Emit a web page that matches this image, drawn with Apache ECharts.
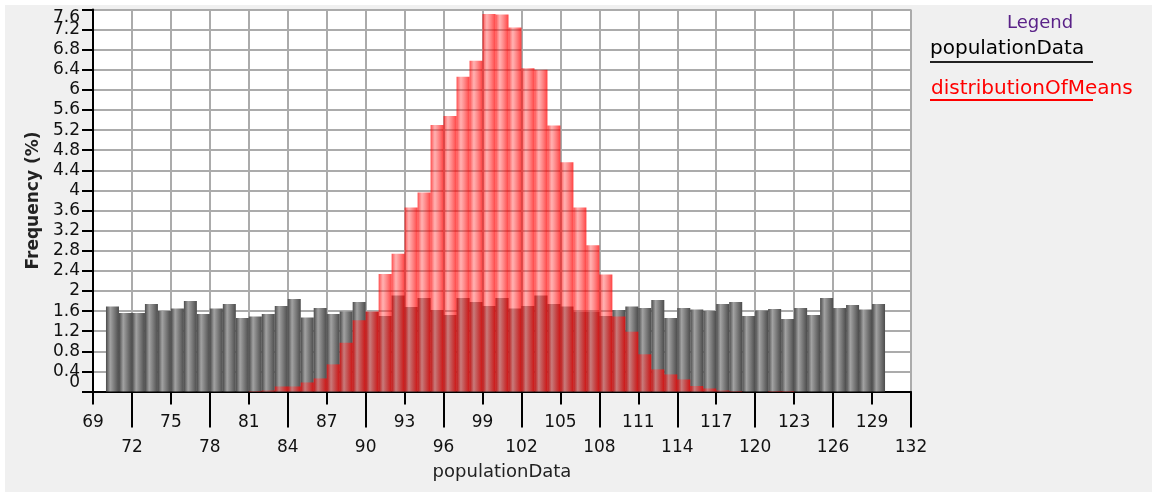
<!DOCTYPE html>
<html>
<head>
<meta charset="utf-8">
<script src="https://cdn.jsdelivr.net/npm/echarts@6/dist/echarts.min.js"></script>
<style>
html,body{margin:0;padding:0;background:#fff;}
#bg{position:absolute;left:5px;top:5px;width:1147px;height:487px;background:#f0f0f0;}
#c{position:absolute;left:0;top:0;width:1152px;height:497px;}
</style>
</head>
<body>
<div id="bg"></div>
<div id="c"></div>
<script>
// Histogram bins: each bar covers [binStart, binStart + 1)
const binStart = [70,71,72,73,74,75,76,77,78,79,80,81,82,83,84,85,86,87,88,89,
  90,91,92,93,94,95,96,97,98,99,100,101,102,103,104,105,106,107,108,109,
  110,111,112,113,114,115,116,117,118,119,120,121,122,123,124,125,126,127,128,129];
const binWidth = 1;

const populationData = [1.69,1.56,1.56,1.74,1.60,1.65,1.80,1.54,1.65,1.74,
  1.46,1.49,1.54,1.70,1.84,1.47,1.66,1.54,1.59,1.78,
  1.58,1.50,1.91,1.68,1.86,1.62,1.52,1.86,1.78,1.70,
  1.86,1.65,1.70,1.91,1.74,1.69,1.58,1.58,1.50,1.62,
  1.69,1.66,1.82,1.46,1.66,1.63,1.60,1.74,1.78,1.50,
  1.61,1.64,1.44,1.66,1.52,1.86,1.66,1.72,1.63,1.74];

const distributionOfMeans = [0,0,0,0,0,0,0,0,0,0,
  0,0.01,0.02,0.10,0.10,0.18,0.26,0.54,0.97,1.42,
  1.59,2.34,2.74,3.66,3.96,5.30,5.48,6.26,6.58,7.51,
  7.50,7.24,6.43,6.40,5.29,4.56,3.66,2.91,2.33,1.49,
  1.19,0.74,0.44,0.34,0.24,0.11,0.06,0.02,0.01,0,
  0,0.01,0.01,0,0,0,0,0,0,0];

const xTicksRow1 = [69,75,81,87,93,99,105,111,117,123,129];
const xTicksRow2 = [72,78,84,90,96,102,108,114,120,126,132];
const yInnerLabels = [0.4,0.8,1.2,1.6,2,2.4,2.8,3.2,3.6,4,4.4,4.8,5.2,5.6,6,6.4,6.8,7.2];
const yEdgeLabels = [0,7.6];

const xMin = 69, xMax = 132, xStep = 3;
const yMin = 0, yMax = 7.6, yStep = 0.4;

const FONT = 'DejaVu Sans';
const chart = echarts.init(document.getElementById('c'), null, {renderer:'canvas'});

const grayGrad = new echarts.graphic.LinearGradient(0,0,1,0,[
  {offset:0, color:'#4a4a4a'},
  {offset:0.33, color:'#a2a2a2'},
  {offset:1, color:'#4c4c4c'}
]);
const redGrad = new echarts.graphic.LinearGradient(0,0,1,0,[
  {offset:0, color:'rgba(255,0,0,0.70)'},
  {offset:0.33, color:'rgba(255,70,70,0.42)'},
  {offset:1, color:'rgba(255,0,0,0.74)'}
]);

const baseX = {type:'value', min:xMin, max:xMax, interval:xStep, position:'bottom', gridIndex:0};
const baseY = {type:'value', min:yMin, max:yMax, interval:yStep, position:'left', gridIndex:0};
const tickLabelStyle = {color:'#111', fontFamily:FONT, fontSize:17};

chart.setOption({
  animation:false,
  grid:{left:93, right:241, top:9.5, bottom:105.5, show:true, backgroundColor:'#fff', borderWidth:0},
  xAxis:[
    Object.assign({}, baseX, {
      axisLine:{show:true, lineStyle:{color:'#000', width:2}},
      axisTick:{show:false},
      axisLabel:{show:false},
      splitLine:{show:true, lineStyle:{color:'#ababab', width:2}},
      name:'populationData', nameLocation:'middle', nameGap:72,
      nameTextStyle:{color:'#222', fontFamily:FONT, fontSize:18}
    }),
    Object.assign({}, baseX, {
      axisLine:{show:false},
      axisTick:{show:true, customValues:xTicksRow1, length:13, lineStyle:{color:'#000', width:2}},
      axisLabel:Object.assign({customValues:xTicksRow1, margin:23}, tickLabelStyle),
      splitLine:{show:false}
    }),
    Object.assign({}, baseX, {
      axisLine:{show:false},
      axisTick:{show:true, customValues:xTicksRow2, length:36, lineStyle:{color:'#000', width:2}},
      axisLabel:Object.assign({customValues:xTicksRow2, margin:48}, tickLabelStyle),
      splitLine:{show:false}
    })
  ],
  yAxis:[
    Object.assign({}, baseY, {
      axisLine:{show:true, lineStyle:{color:'#000', width:2}},
      axisTick:{show:true, length:11, lineStyle:{color:'#000', width:2}},
      axisLabel:Object.assign({customValues:yInnerLabels, margin:13}, tickLabelStyle),
      splitLine:{show:true, lineStyle:{color:'#ababab', width:2}},
      name:'Frequency (%)', nameLocation:'middle', nameGap:50,
      nameTextStyle:{color:'#222', fontFamily:FONT, fontSize:17, fontWeight:'bold'}
    }),
    Object.assign({}, baseY, {
      axisLine:{show:false},
      axisTick:{show:false},
      axisLabel:Object.assign({customValues:yEdgeLabels, margin:13,
        verticalAlignMaxLabel:'top', verticalAlignMinLabel:'bottom'}, tickLabelStyle),
      splitLine:{show:false}
    })
  ],
  series:[
    {
      name:'populationData', type:'bar', xAxisIndex:0, yAxisIndex:0,
      barWidth:13, barGap:'-100%',
      itemStyle:{color:grayGrad},
      data:binStart.map((b,i)=>[b + binWidth/2, populationData[i]])
    },
    {
      name:'distributionOfMeans', type:'bar', xAxisIndex:0, yAxisIndex:0,
      barWidth:13, barGap:'-100%',
      itemStyle:{color:redGrad},
      data:binStart.map((b,i)=>[b + binWidth/2, distributionOfMeans[i]])
    }
  ],
  graphic:[
    {type:'text', style:{x:1040, y:23, text:'Legend', fill:'#5a2288', font:'18px "DejaVu Sans"', align:'center', verticalAlign:'middle'}},
    {type:'text', style:{x:930, y:49, text:'populationData', fill:'#000', font:'20px "DejaVu Sans"', align:'left', verticalAlign:'middle'}},
    {type:'line', shape:{x1:930, y1:62, x2:1093, y2:62}, style:{stroke:'#222', lineWidth:2}},
    {type:'text', style:{x:931, y:89, text:'distributionOfMeans', fill:'#ff0000', font:'20px "DejaVu Sans"', align:'left', verticalAlign:'middle'}},
    {type:'line', shape:{x1:930, y1:100, x2:1093, y2:100}, style:{stroke:'#ff0000', lineWidth:2}}
  ]
});
</script>
</body>
</html>
